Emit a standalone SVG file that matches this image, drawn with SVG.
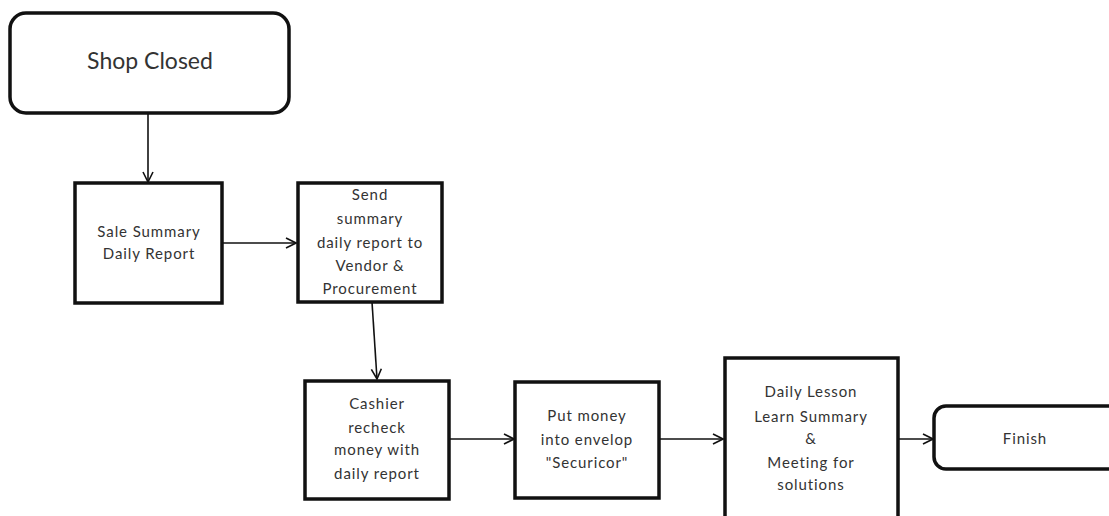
<svg xmlns="http://www.w3.org/2000/svg" width="1109" height="516" viewBox="0 0 1109 516">
  <style>
    .box { fill: #ffffff; stroke: #111111; stroke-width: 3.5; }
    .lbl { font-family: Lato, "Liberation Sans", sans-serif; font-size: 15px; fill: #333333; text-anchor: middle; dominant-baseline: central; letter-spacing: 0.9px; }
    .big { font-size: 23px; letter-spacing: 0; }
    .edge { fill: none; stroke: #111111; stroke-width: 1.6; marker-end: url(#arrow); }
  </style>
  <defs>
    <marker id="arrow" viewBox="0 0 12 12" refX="11" refY="6" markerWidth="12" markerHeight="12" markerUnits="userSpaceOnUse" orient="auto">
      <path d="M1 1 L11 6 L1 11" fill="none" stroke="#111111" stroke-width="1.6"/>
    </marker>
  </defs>
  <rect width="1109" height="516" fill="#ffffff"/>

  <g id="connectors">
    <line class="edge" x1="148" y1="113" x2="148" y2="182"/>
    <line class="edge" x1="222" y1="243" x2="296" y2="243"/>
    <line class="edge" x1="372" y1="302" x2="377" y2="379"/>
    <line class="edge" x1="449" y1="439" x2="514" y2="439"/>
    <line class="edge" x1="659" y1="439" x2="723" y2="439"/>
    <line class="edge" x1="898" y1="439" x2="933" y2="439"/>
  </g>

  <g id="shop-closed">
    <rect class="box" x="10" y="13" width="279" height="100" rx="16" ry="16"/>
    <text class="lbl big" x="150" y="60">Shop Closed</text>
  </g>

  <g id="sale-summary">
    <rect class="box" x="75" y="183" width="147" height="120"/>
    <text class="lbl" x="149" y="231">Sale Summary</text>
    <text class="lbl" x="149" y="253">Daily Report</text>
  </g>

  <g id="send-summary">
    <rect class="box" x="298" y="183" width="144" height="119"/>
    <text class="lbl" x="370" y="194">Send</text>
    <text class="lbl" x="370" y="218">summary</text>
    <text class="lbl" x="370" y="242">daily report to</text>
    <text class="lbl" x="370" y="265">Vendor &amp;</text>
    <text class="lbl" x="370" y="288">Procurement</text>
  </g>

  <g id="cashier-recheck">
    <rect class="box" x="305" y="381" width="144" height="118"/>
    <text class="lbl" x="377" y="403">Cashier</text>
    <text class="lbl" x="377" y="427">recheck</text>
    <text class="lbl" x="377" y="449">money with</text>
    <text class="lbl" x="377" y="473">daily report</text>
  </g>

  <g id="put-money">
    <rect class="box" x="515" y="382" width="144" height="116"/>
    <text class="lbl" x="587" y="415">Put money</text>
    <text class="lbl" x="587" y="439">into envelop</text>
    <text class="lbl" x="587" y="462">"Securicor"</text>
  </g>

  <g id="daily-lesson">
    <rect class="box" x="725" y="358" width="173" height="170"/>
    <text class="lbl" x="811" y="391">Daily Lesson</text>
    <text class="lbl" x="811" y="416">Learn Summary</text>
    <text class="lbl" x="811" y="438">&amp;</text>
    <text class="lbl" x="811" y="462">Meeting for</text>
    <text class="lbl" x="811" y="484">solutions</text>
  </g>

  <g id="finish">
    <rect class="box" x="934" y="406" width="200" height="63" rx="12" ry="12"/>
    <text class="lbl" x="1025" y="438">Finish</text>
  </g>
</svg>
